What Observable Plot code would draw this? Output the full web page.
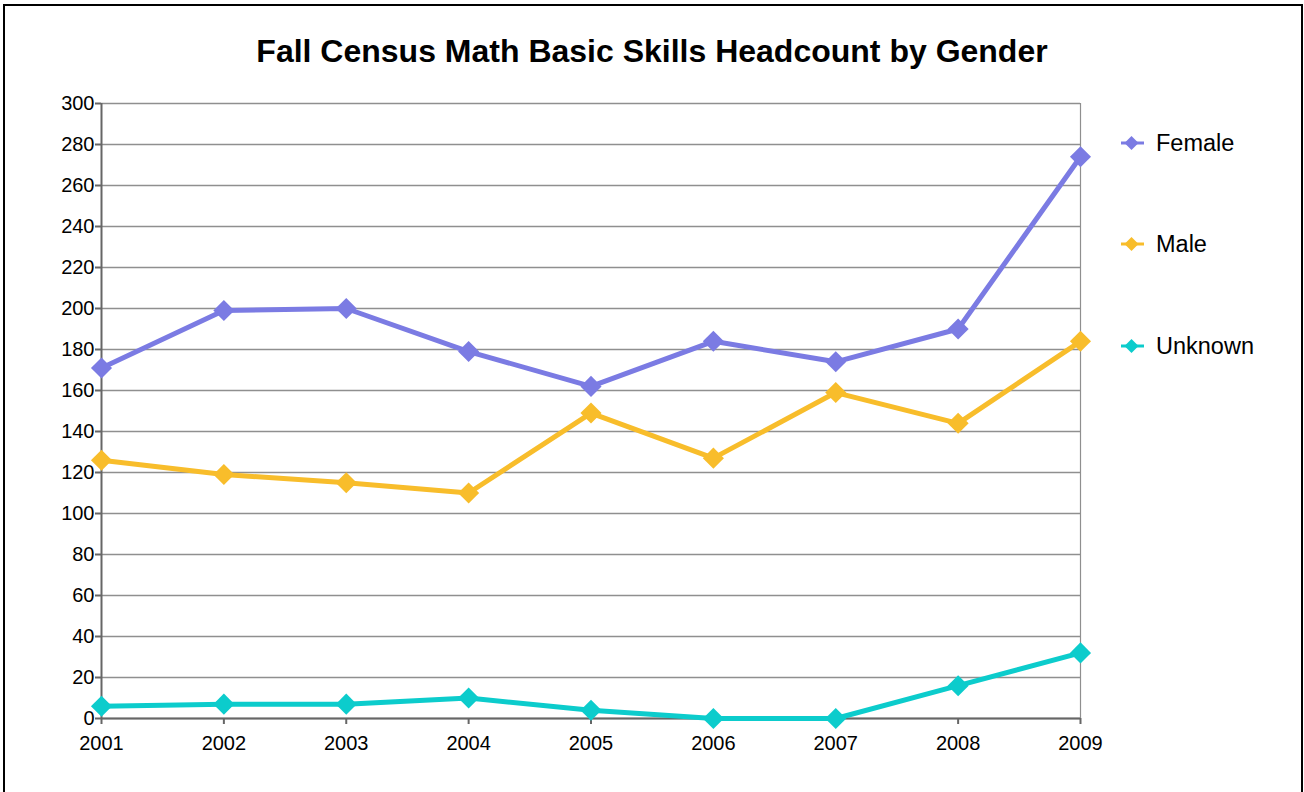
<!DOCTYPE html>
<html>
<head>
<meta charset="utf-8">
<script src="https://cdn.jsdelivr.net/npm/d3@7"></script>
<script src="https://cdn.jsdelivr.net/npm/@observablehq/plot@0.6"></script>
<style>
  html, body { margin: 0; padding: 0; background: #fff; overflow: hidden; }
  #wrap { position: relative; width: 1304px; height: 792px; font-family: "Liberation Sans", Arial, sans-serif; }
  #frame { position: absolute; left: 3px; top: 4px; width: 1300px; height: 900px; border: 2px solid #000; box-sizing: border-box; }
  #title { position: absolute; left: 0; width: 1304px; top: 35px; text-align: center; font-weight: bold; font-size: 32px; line-height: 32px; color: #000; }
  #chart { position: absolute; left: 0; top: 80px; }
  .leg { position: absolute; left: 1119px; height: 24px; display: flex; align-items: center; font-size: 23.5px; color: #000; }
  .leg svg { margin-right: 11px; }
</style>
</head>
<body>
<div id="wrap">
  <div id="frame"></div>
  <div id="title">Fall Census Math Basic Skills Headcount by Gender</div>
  <div id="chart"></div>
  <div id="legend"></div>
</div>
<script>
const years = [2001, 2002, 2003, 2004, 2005, 2006, 2007, 2008, 2009];
const female = [171, 199, 200, 179, 162, 184, 174, 190, 274];
const male = [126, 119, 115, 110, 149, 127, 159, 144, 184];
const unknown = [6, 7, 7, 10, 4, 0, 0, 16, 32];
const seriesNames = ["Female", "Male", "Unknown"];
const seriesColors = ["#7b7be3", "#f8bd2b", "#0ccccc"];
const yTicks = [0, 20, 40, 60, 80, 100, 120, 140, 160, 180, 200, 220, 240, 260, 280, 300];

const seriesValues = [female, male, unknown];
const rows = [];
seriesNames.forEach((name, i) => {
  years.forEach((yr, j) => rows.push({ series: name, year: yr, value: seriesValues[i][j] }));
});

const chart = Plot.plot({
  width: 1110,
  height: 690,
  marginLeft: 101,
  marginRight: 30,
  marginTop: 23,
  marginBottom: 52,
  style: { fontFamily: "'Liberation Sans', Arial, sans-serif", fontSize: "20px", background: "transparent", color: "#000" },
  x: { domain: [2001, 2009] },
  y: { domain: [0, 300] },
  color: { domain: seriesNames, range: seriesColors },
  marks: [
    Plot.ruleY(yTicks, { stroke: "#8f8f8f", strokeWidth: 1.3 }),
    Plot.ruleX([2009], { stroke: "#8f8f8f", strokeWidth: 1.2 }),
    Plot.ruleX([2001], { stroke: "#666", strokeWidth: 2 }),
    Plot.ruleY([0], { stroke: "#666", strokeWidth: 2 }),
    Plot.axisY({ ticks: yTicks, tickSize: 6, tickPadding: 1, stroke: "#666", strokeWidth: 2, fill: "#000", fontSize: 20, label: null }),
    Plot.axisX({ ticks: years, tickFormat: d => String(d), tickSize: 6, tickPadding: 11, stroke: "#666", strokeWidth: 2, fill: "#000", fontSize: 20, label: null }),
    Plot.line(rows, { x: "year", y: "value", z: "series", stroke: "series", strokeWidth: 5 }),
    Plot.dot(rows, { x: "year", y: "value", fill: "series", symbol: "diamond2", r: 9.5, stroke: null })
  ]
});
document.getElementById("chart").appendChild(chart);

// HTML legend
const legendTops = [131, 232, 334];
const legend = document.getElementById("legend");
seriesNames.forEach((name, i) => {
  const row = document.createElement("div");
  row.className = "leg";
  row.style.top = legendTops[i] + "px";
  const c = seriesColors[i];
  row.innerHTML = `<svg width="26" height="24"><line x1="2" y1="12" x2="25" y2="12" stroke="${c}" stroke-width="3"/><path d="M12.5 5 L19.5 12 L12.5 19 L5.5 12 Z" fill="${c}"/></svg><span>${name}</span>`;
  legend.appendChild(row);
});
</script>
</body>
</html>
